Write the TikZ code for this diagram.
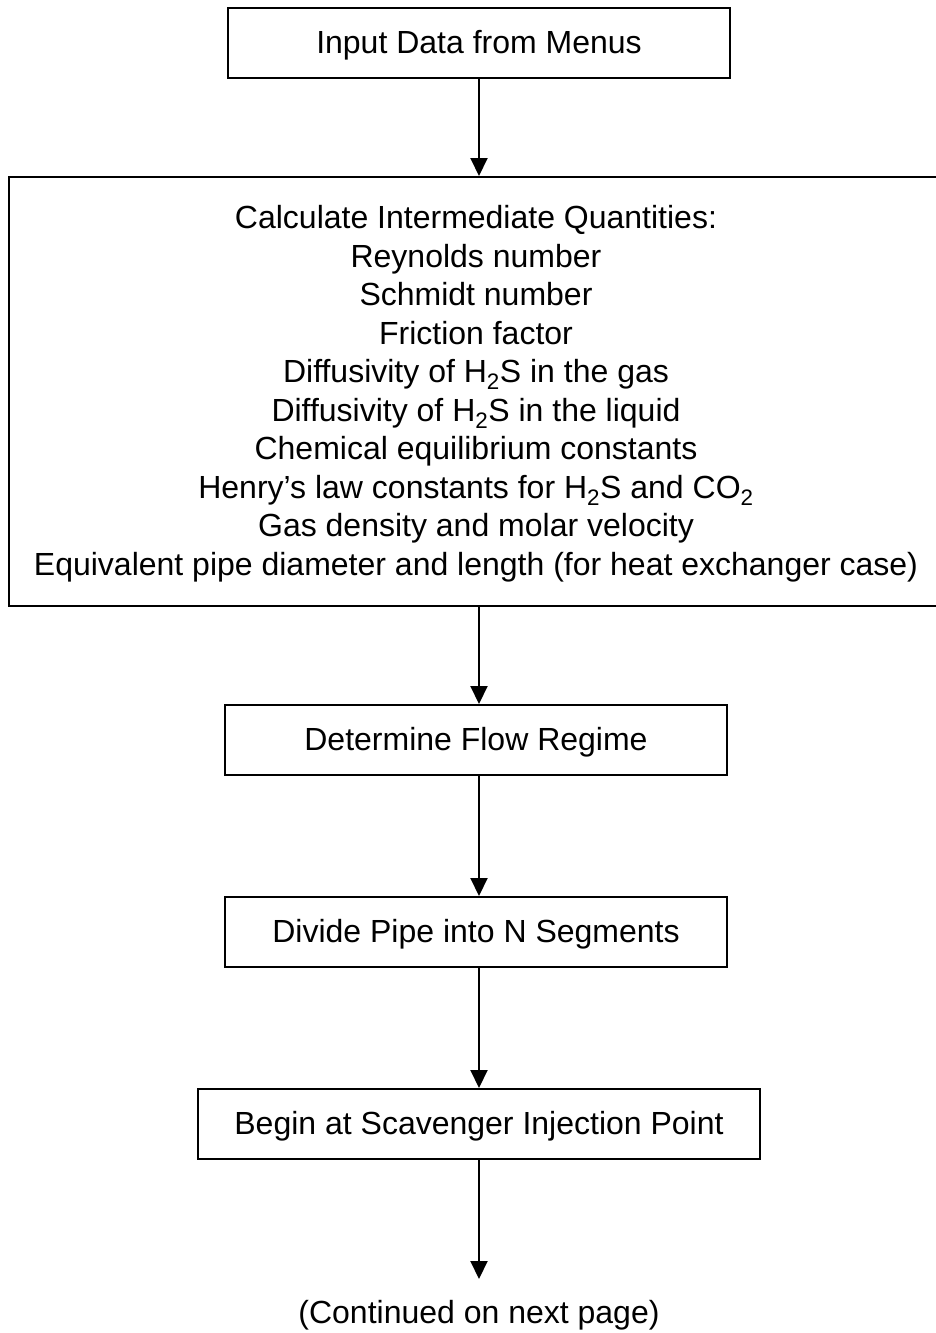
\documentclass[tikz,border=0pt]{standalone}
\usepackage{fontspec}
\setmainfont{Liberation Sans}
\usetikzlibrary{arrows.meta, positioning}

\begin{document}
\begin{tikzpicture}[
  x=1pt, y=1pt,
  block/.style={draw, line width=2pt, minimum height=70pt, align=center,
    font=\fontsize{32}{38.5}\selectfont, text depth=2pt},
  line/.style={-{Triangle[length=18pt, width=17pt]}, line width=2pt},
  node distance=97pt
]
\useasboundingbox (0,0) rectangle (936,-1333);

\node[block, minimum width=502pt] (input) at (479,-43) {Input Data from Menus};

\node[block, minimum width=934pt, minimum height=429pt, below=97pt of input, xshift=-3pt] (calc)
  {Calculate Intermediate Quantities:\\
   Reynolds number\\
   Schmidt number\\
   Friction factor\\
   Diffusivity of H\textsubscript{2}S in the gas\\
   Diffusivity of H\textsubscript{2}S in the liquid\\
   Chemical equilibrium constants\\
   Henry’s law constants for H\textsubscript{2}S and CO\textsubscript{2}\\
   Gas density and molar velocity\\
   Equivalent pipe diameter and length (for heat exchanger case)};

\node[block, minimum width=502pt, below=of calc] (regime) {Determine Flow Regime};
\node[block, minimum width=502pt, below=120pt of regime] (segments) {Divide Pipe into N Segments};
\node[block, minimum width=562pt, below=120pt of segments, xshift=3pt] (begin) {Begin at Scavenger Injection Point};

\node[font=\fontsize{32}{38.5}\selectfont, inner sep=0pt] (cont) at (479,-1315) {(Continued on next page)};

\draw[line] (input.south) -- (input.south |- calc.north);
\draw[line] (input.south |- calc.south) -- (input.south |- regime.north);
\draw[line] (input.south |- regime.south) -- (input.south |- segments.north);
\draw[line] (input.south |- segments.south) -- (input.south |- begin.north);
\draw[line] (begin.south) -- ++(0,-119);
\end{tikzpicture}
\end{document}
